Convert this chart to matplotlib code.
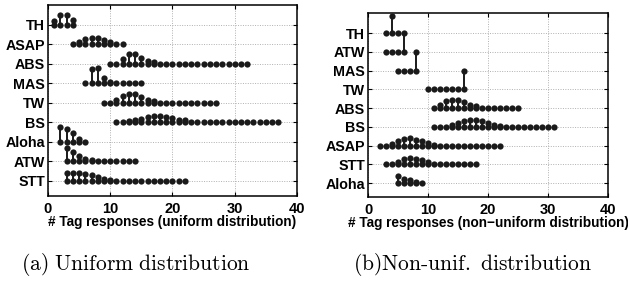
import matplotlib
matplotlib.use("Agg")
import matplotlib.pyplot as plt

plt.rcParams['mathtext.fontset'] = 'cm'

# ---------------- Data: uniform distribution ----------------
uni_labels = ['TH', 'ASAP', 'ABS', 'MAS', 'TW', 'BS', 'Aloha', 'ATW', 'STT']
uni_min = [1, 4, 10, 6, 9, 11, 2, 3, 3]
uni_heights = [
    [0.2, 0.5, 0.5, 0.25],                                   # TH 1..4
    [0, 0.1, 0.3, 0.35, 0.35, 0.25, 0.1, 0, 0],              # ASAP 4..12
    [0, 0, 0.25, 0.5, 0.5, 0.3, 0.15, 0.1] + [0] * 15,       # ABS 10..32
    [0, 0.75, 0.8, 0.3, 0.05, 0, 0, 0, 0, 0],                # MAS 6..15
    [0, 0, 0.15, 0.35, 0.45, 0.45, 0.3, 0.15, 0.1] + [0] * 10,  # TW 9..27
    [0, 0, 0.05, 0.1, 0.2, 0.3, 0.35, 0.35, 0.3, 0.25, 0.15, 0.1] + [0] * 15,  # BS 11..37
    [0.75, 0.65, 0.45, 0.15, 0],                             # Aloha 2..6
    [0.7, 0.5, 0.3, 0.15, 0.05] + [0] * 7,                   # ATW 3..14
    [0.4, 0.4, 0.4, 0.35, 0.3, 0.2, 0.1, 0.05] + [0] * 12,   # STT 3..22
]

# ---------------- Data: non-uniform distribution ----------------
non_labels = ['TH', 'ATW', 'MAS', 'TW', 'ABS', 'BS', 'ASAP', 'STT', 'Aloha']
non_min = [3, 3, 5, 10, 11, 11, 2, 3, 5]
non_heights = [
    [0, 0.9, 0],                                             # TH 3..5
    [0, 0, 0, 1.0],                                          # ATW 3..6
    [0, 0, 0, 1.0],                                          # MAS 5..8
    [0, 0, 0, 0, 0, 0, 0.95],                                # TW 10..16
    [0, 0.15, 0.35, 0.45, 0.45, 0.3, 0.15, 0.1] + [0] * 7,   # ABS 11..25
    [0, 0, 0, 0.1, 0.2, 0.3, 0.35, 0.35, 0.3, 0.2, 0.1, 0.05] + [0] * 9,  # BS 11..31
    [0, 0, 0.1, 0.25, 0.35, 0.4, 0.3, 0.25, 0.15, 0.05] + [0] * 11,  # ASAP 2..22
    [0, 0, 0.1, 0.3, 0.35, 0.3, 0.25, 0.1] + [0] * 8,        # STT 3..18
    [0.35, 0.2, 0.15, 0.05, 0],                              # Aloha 5..9
]

xticks = [0, 10, 20, 30, 40]
uni_xlabel = '# Tag responses (uniform distribution)'
non_xlabel = '# Tag responses (non\u2212uniform distribution)'
captions = [r'$\mathrm{(a)\ Uniform\ distribution}$',
            r'$\mathrm{(b)Non\text{-}unif.\ distribution}$']

DOT = '#1a1a1a'
FONT = 'Liberation Sans'


def draw(ax, labels, mins, heights, xlabel, ylim):
    n = len(labels)
    for i, (lab, x0, hs) in enumerate(zip(labels, mins, heights)):
        y = n - i
        xs = [x0 + k for k in range(len(hs))]
        for x, h in zip(xs, hs):
            if h > 0:
                ax.plot([x, x], [y, y + h], color=DOT, lw=1.4, zorder=3,
                        solid_capstyle='butt')
                ax.plot([x], [y + h], 'o', color=DOT, ms=4.5, mec='none', zorder=4)
        ax.plot(xs, [y] * len(xs), 'o', color=DOT, ms=4.5, mec='none',
                ls='none', zorder=4)
    ax.set_xlim(0, 40)
    ax.set_ylim(*ylim)
    ax.set_xticks(xticks)
    ax.set_xticklabels([str(t) for t in xticks], fontweight='bold', fontsize=10.5,
                       family=FONT)
    ax.set_yticks([n - i for i in range(n)])
    ax.set_yticklabels(labels, fontweight='bold', fontsize=10.3, family=FONT)
    ax.grid(True, ls=(0, (1, 1.5)), color='#b0b0b0', lw=0.7)
    ax.set_axisbelow(True)
    ax.tick_params(direction='in', length=3, width=0.8, top=True, right=True)
    ax.tick_params(axis='x', pad=4.5)
    ax.tick_params(axis='y', pad=2)
    for s in ax.spines.values():
        s.set_linewidth(1.1)
        s.set_color('black')
    ax.set_xlabel(xlabel, fontweight='bold', fontsize=9.8, family=FONT,
                  labelpad=-1)


fig = plt.figure(figsize=(6.28, 2.89), dpi=100)
ax1 = fig.add_axes([0.0764, 0.3218, 0.3965, 0.661])
ax2 = fig.add_axes([0.586, 0.318, 0.382, 0.637])

draw(ax1, uni_labels, uni_min, uni_heights, uni_xlabel, (0.23, 10.02))
draw(ax2, non_labels, non_min, non_heights, non_xlabel, (0.25, 10.07))

fig.text(136 / 628, 1 - 265 / 289, captions[0], ha='center', va='center',
         fontsize=15.5)
fig.text(472 / 628, 1 - 265 / 289, captions[1], ha='center', va='center',
         fontsize=15.5)

fig.savefig('out.png', dpi=100)
